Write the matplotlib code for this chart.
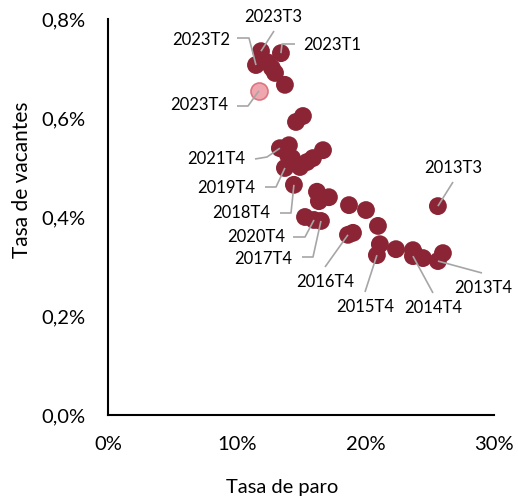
import matplotlib
matplotlib.use("Agg")
import matplotlib.pyplot as plt
from matplotlib.ticker import FuncFormatter

plt.rcParams['font.family'] = ['Lato', 'DejaVu Sans']

# ---- data ----
quarters = ["2013T3", "2013T4",
            "2014T1", "2014T2", "2014T3", "2014T4",
            "2015T1", "2015T2", "2015T3", "2015T4",
            "2016T1", "2016T2", "2016T3", "2016T4",
            "2017T1", "2017T2", "2017T3", "2017T4",
            "2018T1", "2018T2", "2018T3", "2018T4",
            "2019T1", "2019T2", "2019T3", "2019T4",
            "2020T1", "2020T2", "2020T3", "2020T4",
            "2021T1", "2021T2", "2021T3", "2021T4",
            "2022T1", "2022T2", "2022T3", "2022T4",
            "2023T1", "2023T2", "2023T3", "2023T4"]
tasa_paro = [25.64, 25.64,
             26.03, 24.48, 23.70, 23.70,
             23.78, 22.38, 21.13, 20.90,
             20.98, 20.05, 19.04, 18.65,
             18.73, 17.17, 16.24, 16.55,
             16.71, 15.46, 14.37, 14.45,
             14.92, 13.99, 14.06, 13.75,
             14.30, 15.31, 16.39, 16.01,
             15.93, 15.15, 14.61, 13.36,
             13.75, 12.35, 12.74, 12.98,
             13.44, 11.50, 11.89, 11.73]
tasa_vacantes = [0.422, 0.311,
                 0.327, 0.317, 0.333, 0.321,
                 0.327, 0.335, 0.345, 0.323,
                 0.382, 0.414, 0.368, 0.364,
                 0.424, 0.440, 0.451, 0.392,
                 0.535, 0.511, 0.511, 0.465,
                 0.501, 0.525, 0.545, 0.499,
                 0.519, 0.400, 0.432, 0.394,
                 0.519, 0.604, 0.592, 0.539,
                 0.667, 0.713, 0.701, 0.691,
                 0.731, 0.707, 0.735, 0.655]
highlight = "2023T4"
x_ticks = [0, 10, 20, 30]
y_ticks = [0.0, 0.2, 0.4, 0.6, 0.8]

# ---- layout / style ----
W, H = 518, 497
DARK = "#8b2535"
PINK_FACE = "#efa6ae"
PINK_EDGE = "#dd7480"
GREY = "#a6a6a6"

fig = plt.figure(figsize=(W / 100, H / 100), dpi=100)
ax = fig.add_axes([108 / W, 1 - 415 / H, (494 - 108) / W, (415 - 19) / H])
ax.set_xlim(0, 30)
ax.set_ylim(0, 0.8)

for s in ["top", "right"]:
    ax.spines[s].set_visible(False)
for s in ["left", "bottom"]:
    ax.spines[s].set_linewidth(1.5)
    ax.spines[s].set_color("black")

ax.set_xticks(x_ticks)
ax.set_yticks(y_ticks)
ax.xaxis.set_major_formatter(FuncFormatter(lambda v, p: f"{v:.0f}%"))
ax.yaxis.set_major_formatter(FuncFormatter(lambda v, p: f"{v:.1f}%".replace(".", ",")))
ax.tick_params(axis="both", length=0, labelsize=14.5, colors="black")
ax.tick_params(axis="x", pad=15)
ax.tick_params(axis="y", pad=16)

fig.text(282 / W, 1 - 487 / H, "Tasa de paro", ha="center", va="center", fontsize=14.5)
fig.text(22 / W, 1 - 180 / H, "Tasa de vacantes", ha="center", va="center",
         rotation=90, fontsize=15)

# points
for q, xv, yv in zip(quarters, tasa_paro, tasa_vacantes):
    if q == highlight:
        ax.scatter([xv], [yv], s=150, color=PINK_FACE, edgecolors=PINK_EDGE,
                   linewidths=1.2, zorder=2, clip_on=False)
    else:
        ax.scatter([xv], [yv], s=165, color=DARK, edgecolors="none", zorder=2,
                   clip_on=False)

# labels: (quarter, text pixel pos, alignment, leader vertices in image pixels)
labels = [
    ("2023T3", (273, 17), "center", [(274, 31)]),
    ("2023T2", (230, 40), "right", [(237, 38), (249, 38)]),
    ("2023T1", (303, 45), "left", [(295, 44), (282, 44)]),
    ("2023T4", (228, 105), "right", [(237, 106), (248, 106)]),
    ("2021T4", (245, 159), "right", [(255, 159), (267, 157)]),
    ("2019T4", (255, 188), "right", [(265, 187), (276, 187)]),
    ("2018T4", (270, 213), "right", [(280, 213), (291, 213)]),
    ("2020T4", (285, 237), "right", [(293, 237), (305, 237)]),
    ("2017T4", (292, 259), "right", [(302, 257), (313, 257)]),
    ("2016T4", (325, 282), "center", [(325, 267)]),
    ("2015T4", (365, 307), "center", [(365, 292)]),
    ("2014T4", (433, 308), "center", [(433, 293)]),
    ("2013T4", (483, 288), "center", [(482, 273)]),
    ("2013T3", (453, 168), "center", [(453, 182)]),
]

inv = ax.transData.inverted()


def img2data(px, py):
    return inv.transform((px, H - py))


for q, (tx, ty), ha, verts in labels:
    i = quarters.index(q)
    pts = [img2data(vx, vy) for vx, vy in verts]
    pts.append((tasa_paro[i], tasa_vacantes[i]))
    xs = [p[0] for p in pts]
    ys = [p[1] for p in pts]
    ax.plot(xs, ys, color=GREY, lw=1.2, zorder=3, clip_on=False,
            solid_capstyle="butt")
    dx, dy = img2data(tx, ty)
    ax.text(dx, dy, q, ha=ha, va="center", fontsize=12, zorder=4, clip_on=False)

fig.savefig("out.png", dpi=100)
